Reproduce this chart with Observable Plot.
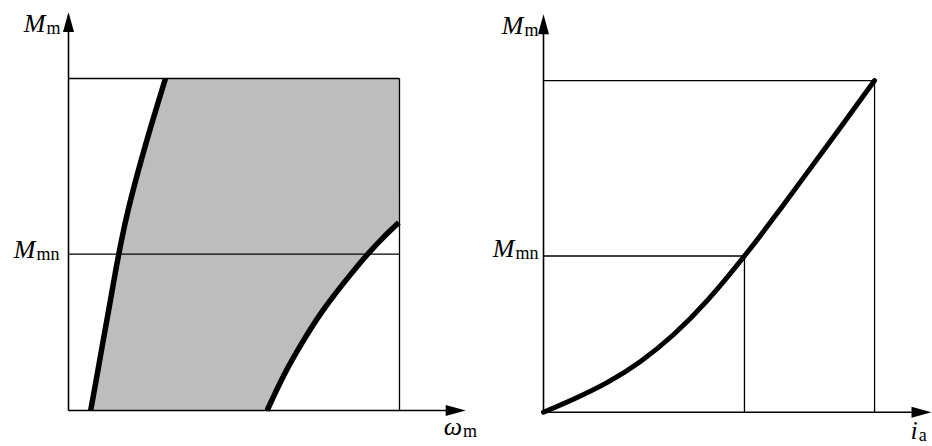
<!DOCTYPE html>
<html>
<head>
<meta charset="utf-8">
<script src="https://cdn.jsdelivr.net/npm/d3@7"></script>
<script src="https://cdn.jsdelivr.net/npm/@observablehq/plot@0.6"></script>
<style>
  html, body { margin: 0; padding: 0; background: #fff; }
  #wrap { display: flex; width: 932px; height: 446px; overflow: hidden; }
</style>
</head>
<body>
<div id="wrap"></div>
<script>
// ---------- data (normalized: M_max = 1, speed / current at frame = 1) ----------
const M_max = 1.0;          // top of frame (M_m)
const M_rated = 0.471;      // M_mn
const w_max = 1.0;          // right edge of left frame
const i_max = 1.0;          // right edge of right frame
const i_rated = 0.607;      // current at M_mn
const axisEnd = 1.2;        // arrow tips
const iAxisEnd = 1.172;

// left boundary curve (torque vs speed)
const leftCurveM = [0, 0.105, 0.206, 0.306, 0.407, 0.507, 0.607, 0.708, 0.808, 0.909, 1.0];
const leftCurveW = [0.067, 0.086, 0.104, 0.122, 0.140, 0.159, 0.181, 0.207, 0.235, 0.265, 0.293];
// right boundary curve
const rightCurveM = [0, 0.105, 0.206, 0.306, 0.407, 0.472, 0.520, 0.566];
const rightCurveW = [0.600, 0.650, 0.707, 0.772, 0.850, 0.905, 0.950, 0.998];
// torque vs armature current curve
const currentI = [0, 0.092, 0.193, 0.293, 0.394, 0.495, 0.607, 0.700, 0.786, 0.887, 1.0];
const currentM = [0, 0.040, 0.090, 0.153, 0.235, 0.337, 0.471, 0.592, 0.708, 0.845, 1.0];

// labels: main symbol | subscript
const labelMm = "M|m";
const labelMmn = "M|mn";
const labelW = "ω|m";
const labelI = "i|a";

// ---------- helpers ----------
const leftCurve = leftCurveM.map((M, k) => ({w: leftCurveW[k], M}));
const rightCurve = rightCurveM.map((M, k) => ({w: rightCurveW[k], M}));
const currentCurve = currentI.map((i, k) => ({i, M: currentM[k]}));
const shadePoly = [
  ...leftCurve,
  {w: w_max, M: M_max},
  ...rightCurve.slice().reverse()
];

const arrowHead = {
  draw(ctx) {
    ctx.moveTo(0, 0);
    ctx.lineTo(-5.5, 20);
    ctx.lineTo(5.5, 20);
    ctx.closePath();
  }
};

const font = "'Liberation Serif', 'Times New Roman', serif";
const textOpts = {fontFamily: font, fontSize: 26, fontStyle: "italic", fill: "black", lineAnchor: "bottom"};

function subscriptify(svg) {
  svg.querySelectorAll("text").forEach(t => {
    const s = t.textContent;
    if (!s.includes("|")) return;
    const [main, sub] = s.split("|");
    t.textContent = "";
    const a = document.createElementNS("http://www.w3.org/2000/svg", "tspan");
    a.textContent = main;
    const b = document.createElementNS("http://www.w3.org/2000/svg", "tspan");
    b.textContent = sub;
    b.setAttribute("font-size", "18");
    b.setAttribute("font-style", "normal");
    b.setAttribute("dy", "2");
    b.setAttribute("dx", "1");
    t.appendChild(a);
    t.appendChild(b);
  });
  return svg;
}

const svgStyle = {background: "transparent", overflow: "visible"};

// ---------- left panel ----------
const left = Plot.plot({
  width: 466, height: 446,
  marginLeft: 68, marginRight: 0.8, marginTop: 11.6, marginBottom: 36,
  x: {domain: [0, axisEnd], axis: null},
  y: {domain: [0, axisEnd], axis: null},
  style: svgStyle,
  marks: [
    Plot.line(shadePoly, {x: "w", y: "M", fill: "#bdbdbd", stroke: "none"}),
    Plot.link([
      {x1: 0, y1: M_max, x2: w_max, y2: M_max},
      {x1: w_max, y1: 0, x2: w_max, y2: M_max},
      {x1: 0, y1: M_rated, x2: w_max, y2: M_rated}
    ], {x1: "x1", y1: "y1", x2: "x2", y2: "y2", stroke: "black", strokeWidth: 1.3}),
    Plot.link([
      {x1: 0, y1: 0, x2: 0, y2: axisEnd - 0.03},
      {x1: 0, y1: 0, x2: axisEnd - 0.03, y2: 0}
    ], {x1: "x1", y1: "y1", x2: "x2", y2: "y2", stroke: "black", strokeWidth: 1.6}),
    Plot.line(leftCurve, {x: "w", y: "M", curve: "natural", stroke: "black", strokeWidth: 5.5, strokeLinecap: "butt"}),
    Plot.line(rightCurve, {x: "w", y: "M", curve: "natural", stroke: "black", strokeWidth: 5.5, strokeLinecap: "butt"}),
    Plot.dot([{x: 0, y: axisEnd}], {x: "x", y: "y", symbol: arrowHead, r: 5, fill: "black", stroke: "none"}),
    Plot.dot([{x: axisEnd, y: 0}], {x: "x", y: "y", symbol: arrowHead, r: 5, fill: "black", stroke: "none", rotate: 90}),
    Plot.text([{x: 0, y: axisEnd, t: labelMm}], {x: "x", y: "y", text: "t", ...textOpts, textAnchor: "end", dx: -8, dy: 20}),
    Plot.text([{x: 0, y: M_rated, t: labelMmn}], {x: "x", y: "y", text: "t", ...textOpts, textAnchor: "end", dx: -9, dy: 4}),
    Plot.text([{x: axisEnd, y: 0, t: labelW}], {x: "x", y: "y", text: "t", ...textOpts, textAnchor: "start", dx: -22, dy: 24})
  ]
});

// ---------- right panel ----------
const right = Plot.plot({
  width: 466, height: 446,
  marginLeft: 77, marginRight: 1, marginTop: 13.7, marginBottom: 34.3,
  x: {domain: [0, iAxisEnd], axis: null},
  y: {domain: [0, axisEnd], axis: null},
  style: svgStyle,
  marks: [
    Plot.link([
      {x1: 0, y1: M_max, x2: i_max, y2: M_max},
      {x1: i_max, y1: 0, x2: i_max, y2: M_max},
      {x1: 0, y1: M_rated, x2: i_rated, y2: M_rated},
      {x1: i_rated, y1: 0, x2: i_rated, y2: M_rated}
    ], {x1: "x1", y1: "y1", x2: "x2", y2: "y2", stroke: "black", strokeWidth: 1.3}),
    Plot.link([
      {x1: 0, y1: 0, x2: 0, y2: axisEnd - 0.03},
      {x1: 0, y1: 0, x2: iAxisEnd - 0.03, y2: 0}
    ], {x1: "x1", y1: "y1", x2: "x2", y2: "y2", stroke: "black", strokeWidth: 1.6}),
    Plot.line(currentCurve, {x: "i", y: "M", curve: "natural", stroke: "black", strokeWidth: 5, strokeLinecap: "round"}),
    Plot.dot([{x: 0, y: axisEnd}], {x: "x", y: "y", symbol: arrowHead, r: 5, fill: "black", stroke: "none"}),
    Plot.dot([{x: iAxisEnd, y: 0}], {x: "x", y: "y", symbol: arrowHead, r: 5, fill: "black", stroke: "none", rotate: 90}),
    Plot.text([{x: 0, y: axisEnd, t: labelMm}], {x: "x", y: "y", text: "t", ...textOpts, textAnchor: "end", dx: -5, dy: 20}),
    Plot.text([{x: 0, y: M_rated, t: labelMmn}], {x: "x", y: "y", text: "t", ...textOpts, textAnchor: "end", dx: -5, dy: 1}),
    Plot.text([{x: iAxisEnd, y: 0, t: labelI}], {x: "x", y: "y", text: "t", ...textOpts, textAnchor: "start", dx: -21, dy: 27})
  ]
});

const wrap = document.getElementById("wrap");
wrap.appendChild(subscriptify(left));
wrap.appendChild(subscriptify(right));
</script>
</body>
</html>
